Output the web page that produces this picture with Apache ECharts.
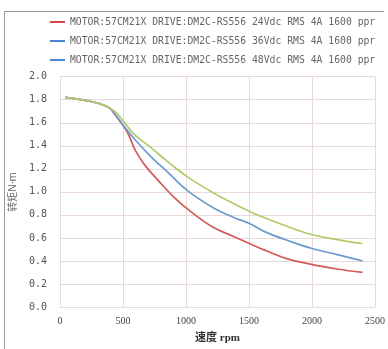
<!DOCTYPE html>
<html><head><meta charset="utf-8">
<script src="https://cdn.jsdelivr.net/npm/echarts@6/dist/echarts.min.js"></script>
<style>html,body{margin:0;padding:0;background:#fff}#c{width:388px;height:349px}</style>
</head><body><div id="c"></div>
<script>
const seriesNames = [
  'MOTOR:57CM21X DRIVE:DM2C-RS556 24Vdc RMS 4A 1600 ppr',
  'MOTOR:57CM21X DRIVE:DM2C-RS556 36Vdc RMS 4A 1600 ppr',
  'MOTOR:57CM21X DRIVE:DM2C-RS556 48Vdc RMS 4A 1600 ppr'
];
const rpm24 = [40, 200, 300, 390, 443, 520, 559, 598, 675, 779, 908, 1036, 1219, 1374, 1555, 1633, 1800, 1995, 2200, 2400];
const torque24 = [1.82, 1.795, 1.77, 1.73, 1.66, 1.545, 1.46, 1.36, 1.23, 1.10, 0.95, 0.83, 0.69, 0.615, 0.525, 0.49, 0.42, 0.37, 0.33, 0.30];
const rpm36 = [40, 200, 300, 390, 440, 494, 598, 727, 857, 1012, 1219, 1374, 1504, 1633, 1827, 1995, 2200, 2400];
const torque36 = [1.82, 1.795, 1.77, 1.73, 1.67, 1.59, 1.45, 1.30, 1.17, 1.01, 0.86, 0.78, 0.725, 0.65, 0.57, 0.51, 0.455, 0.40];
const rpm48 = [40, 200, 300, 390, 443, 520, 598, 727, 857, 1012, 1219, 1374, 1504, 1633, 1827, 1995, 2200, 2400];
const torque48 = [1.82, 1.795, 1.77, 1.73, 1.69, 1.59, 1.49, 1.38, 1.26, 1.13, 0.99, 0.90, 0.83, 0.77, 0.69, 0.63, 0.585, 0.55];
const lineColors = ['#d45a5a', '#6a9bd2', '#b0cc6a'];
const legendColors = ['#d9453f', '#4d86d0', '#4d86d0'];

const pair = (xs, ys) => xs.map((x, i) => [x, ys[i]]);
const chart = echarts.init(document.getElementById('c'));
const mono = '"DejaVu Sans Mono", "Liberation Mono", monospace';
chart.setOption({
  animation: false,
  graphic: [{
    type: 'polyline', shape: {points: [[4.5, 349], [4.5, 11.5], [384, 11.5]]},
    style: {stroke: '#9a9a9a', lineWidth: 1, fill: null}
  }],
  legend: {
    orient: 'vertical', left: 50, top: 16, itemGap: 7, padding: 0,
    itemWidth: 15, itemHeight: 2, icon: 'rect',
    textStyle: {fontFamily: mono, fontSize: 9.75, color: '#666', lineHeight: 12},
    data: seriesNames.map((n, i) => ({name: n, itemStyle: {color: legendColors[i]}}))
  },
  grid: {left: 53, right: 13, top: 76.7, bottom: 38.3},
  xAxis: {
    type: 'value', min: 0, max: 2500, interval: 500,
    name: '速度 rpm', nameLocation: 'middle', nameGap: 26,
    nameTextStyle: {fontFamily: '"Liberation Serif", "Noto Sans CJK SC", serif', fontWeight: 'bold', fontSize: 11, color: '#333'},
    axisLine: {lineStyle: {color: '#e8dcdc'}},
    axisTick: {show: false},
    axisLabel: {fontFamily: '"Liberation Serif", serif', fontSize: 10, color: '#444', margin: 9, formatter: v => String(v)},
    splitLine: {lineStyle: {color: '#ead9d9'}}
  },
  yAxis: {
    type: 'value', min: 0, max: 2, interval: 0.2,
    name: '转矩N·m', nameLocation: 'middle', nameGap: 40, nameRotate: 90,
    nameTextStyle: {fontFamily: '"Noto Sans", "Noto Sans CJK SC", sans-serif', fontSize: 10, color: '#666'},
    axisLine: {show: true, lineStyle: {color: '#e8dcdc'}},
    axisTick: {show: false},
    axisLabel: {fontFamily: mono, fontSize: 10, color: '#555', margin: 13, formatter: v => v.toFixed(1)},
    splitLine: {lineStyle: {color: '#ead9d9'}}
  },
  series: [
    {name: seriesNames[0], type: 'line', smooth: 0.4, showSymbol: false, data: pair(rpm24, torque24), color: lineColors[0], lineStyle: {width: 1.7, color: lineColors[0]}, z: 3},
    {name: seriesNames[1], type: 'line', smooth: 0.4, showSymbol: false, data: pair(rpm36, torque36), color: lineColors[1], lineStyle: {width: 1.7, color: lineColors[1]}, z: 4},
    {name: seriesNames[2], type: 'line', smooth: 0.4, showSymbol: false, data: pair(rpm48, torque48), color: lineColors[2], lineStyle: {width: 1.7, color: lineColors[2]}, z: 5}
  ]
});
</script></body></html>
